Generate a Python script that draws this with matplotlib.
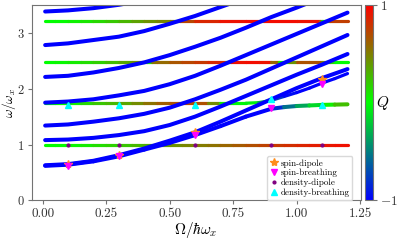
import matplotlib
matplotlib.use("Agg")
import matplotlib.pyplot as plt
import numpy as np
from matplotlib.collections import LineCollection
from matplotlib.colors import LinearSegmentedColormap, Normalize
from matplotlib.cm import ScalarMappable

plt.rcParams['font.family'] = 'serif'
plt.rcParams['font.serif'] = ['cmr10']
plt.rcParams['mathtext.fontset'] = 'cm'
plt.rcParams['axes.formatter.use_mathtext'] = True
plt.rcParams['axes.edgecolor'] = '0.45'
plt.rcParams['xtick.color'] = '0.45'
plt.rcParams['ytick.color'] = '0.45'
plt.rcParams['xtick.labelcolor'] = '0.2'
plt.rcParams['ytick.labelcolor'] = '0.2'

# ---- blue branches (Q = -1), omega vs Omega ----
om_grid = [0.01, 0.1, 0.2, 0.3, 0.4, 0.5, 0.6, 0.7, 0.8, 0.9, 1.0, 1.1, 1.2]
c1a = [0.63, 0.65, 0.71, 0.81, 0.93, 1.07, 1.22, 1.41, 1.61, 1.81, 2.01, 2.19, 2.35]
c2 = [1.08, 1.09, 1.12, 1.17, 1.24, 1.35, 1.50, 1.68, 1.87, 2.06, 2.25, 2.43, 2.62]
c3 = [1.34, 1.36, 1.41, 1.47, 1.55, 1.66, 1.81, 1.98, 2.16, 2.36, 2.56, 2.76, 2.96]
c4 = [1.75, 1.77, 1.81, 1.88, 1.96, 2.08, 2.23, 2.41, 2.60, 2.79, 2.98, 3.17, 3.36]
c5_om = [0.01, 0.1, 0.2, 0.3, 0.4, 0.5, 0.6, 0.7, 0.8, 0.9, 1.0, 1.05]
c5 = [2.21, 2.23, 2.29, 2.37, 2.47, 2.60, 2.75, 2.91, 3.09, 3.28, 3.45, 3.54]
c6_om = [0.01, 0.1, 0.2, 0.3, 0.4, 0.5, 0.6, 0.7, 0.75]
c6 = [2.78, 2.81, 2.87, 2.93, 3.03, 3.16, 3.30, 3.46, 3.54]
c7_om = [0.01, 0.1, 0.2, 0.3, 0.35]
c7 = [3.38, 3.40, 3.44, 3.50, 3.54]

# ---- coloured branches: omega and Q vs Omega ----
# spin-breathing branch bending into the sqrt(3) line
c1b_om = [0.01, 0.1, 0.2, 0.3, 0.4, 0.5, 0.6, 0.7, 0.8, 0.9, 0.95, 1.0, 1.05, 1.1, 1.15, 1.2]
c1b = [0.62, 0.64, 0.70, 0.79, 0.91, 1.03, 1.17, 1.33, 1.50, 1.64, 1.67, 1.69, 1.70, 1.71, 1.715, 1.72]
c1b_q = [-1, -1, -1, -1, -1, -1, -1, -1, -1, -1, -0.65, -0.45, -0.25, -0.05, 0.15, 0.35]

# sqrt(3) line, then rising
up_om = [0.01, 0.05, 0.1, 0.15, 0.2, 0.25, 0.3, 0.35, 0.4, 0.45, 0.5, 0.55, 0.6, 0.65,
         0.7, 0.75, 0.8, 0.85, 0.9, 0.95, 1.0, 1.05, 1.1, 1.15, 1.2]
up = [1.74, 1.74, 1.74, 1.74, 1.74, 1.74, 1.74, 1.74, 1.74, 1.74, 1.74, 1.74, 1.74, 1.74,
      1.74, 1.74, 1.74, 1.75, 1.79, 1.86, 1.93, 2.01, 2.10, 2.18, 2.27]
up_q = [0.0, 0.0, 0.05, 0.1, 0.2, 0.25, 0.3, 0.4, 0.5, 0.6, 0.65, 0.7, 0.72, 0.65,
        0.25, -0.05, 0.0, -0.1, -0.6, -0.9, -1, -1, -1, -1, -1]

# omega = 1 line
w1 = 1.0
w1_om = [0.01, 0.05, 0.1, 0.15, 0.2, 0.25, 0.3, 0.35, 0.4, 0.44, 0.45, 0.46, 0.5, 0.55,
         0.6, 0.65, 0.7, 0.75, 0.8, 0.85, 0.9, 0.95, 1.0, 1.05, 1.1, 1.15, 1.2]
w1_q = [0.0, 0.0, 0.02, 0.05, 0.1, 0.15, 0.2, 0.25, 0.3, 0.34, 0.95, 0.36, 0.4, 0.45,
        0.5, 0.53, 0.57, 0.62, 0.67, 0.72, 0.76, 0.8, 0.84, 0.87, 0.9, 0.92, 0.94]

# omega = 2.47 line
w3 = 2.47
w3_om = [0.01, 0.05, 0.1, 0.15, 0.2, 0.25, 0.3, 0.35, 0.41, 0.42, 0.43, 0.45, 0.5, 0.55,
         0.6, 0.65, 0.72, 0.73, 0.74, 0.8, 0.85, 0.9, 0.93, 0.95, 0.97, 1.0, 1.05, 1.1,
         1.13, 1.15, 1.2]
w3_q = [0.0, 0.0, 0.05, 0.1, 0.15, 0.22, 0.3, 0.38, 0.5, -0.3, 0.52, 0.55, 0.62, 0.7,
        0.75, 0.8, 0.88, -0.3, 0.9, 0.95, 0.95, 0.9, 0.3, -0.2, 0.2, 0.65, 0.7, 0.65,
        0.3, 0.0, 0.0]

# omega = 3.21 line
w4 = 3.21
w4_om = [0.01, 0.05, 0.1, 0.15, 0.2, 0.25, 0.3, 0.35, 0.4, 0.45, 0.5, 0.52, 0.53, 0.54,
         0.6, 0.7, 0.8, 0.85, 0.86, 0.87, 1.0, 1.09, 1.1, 1.11, 1.13, 1.2]
w4_q = [0.0, 0.0, 0.03, 0.07, 0.12, 0.18, 0.25, 0.32, 0.4, 0.45, 0.5, 0.52, -0.3, 0.65,
        0.8, 0.9, 0.95, 0.95, -0.3, 0.95, 0.95, 0.9, 0.3, -0.2, 0.75, 0.75]

# ---- markers ----
sd_om = [0.1, 0.3, 0.6, 1.1]
sd_w = [0.66, 0.82, 1.23, 2.18]
sb_om = [0.1, 0.3, 0.6, 0.9, 1.1]
sb_w = [0.61, 0.80, 1.17, 1.65, 2.08]
dd_om = [0.1, 0.3, 0.6, 0.9, 1.1]
dd_w = [1.0, 1.0, 1.0, 1.0, 1.0]
db_om = [0.1, 0.3, 0.6, 0.9, 1.1]
db_w = [1.71, 1.71, 1.71, 1.81, 1.71]

cmap = LinearSegmentedColormap.from_list('bgr', ['blue', 'lime', 'red'])
norm = Normalize(-1, 1)


def colored(ax, x, y, q, lw):
    x = np.asarray(x, float)
    y = np.asarray(y, float)
    q = np.asarray(q, float)
    pts = np.column_stack([x, y]).reshape(-1, 1, 2)
    segs = np.concatenate([pts[:-1], pts[1:]], axis=1)
    qm = 0.5 * (q[:-1] + q[1:])
    lc = LineCollection(segs, colors=cmap(norm(qm)), linewidths=lw, capstyle='round')
    ax.add_collection(lc)


fig = plt.figure(figsize=(3.97, 2.4), dpi=100)
ax = fig.add_axes([0.0798, 0.1646, 0.8288, 0.8154])
cax = fig.add_axes([0.9194, 0.1646, 0.0214, 0.8154])

lw_h = 2.3
lw_c = 2.9
colored(ax, w1_om, [w1] * len(w1_om), w1_q, lw_h)
colored(ax, w3_om, [w3] * len(w3_om), w3_q, lw_h)
colored(ax, w4_om, [w4] * len(w4_om), w4_q, lw_h)
colored(ax, up_om, up, up_q, lw_h)

blue = cmap(norm(-1))
for xs, ys in [(om_grid, c1a), (om_grid, c2), (om_grid, c3), (om_grid, c4),
               (c5_om, c5), (c6_om, c6), (c7_om, c7)]:
    ax.plot(xs, ys, color=blue, lw=lw_c, solid_capstyle='round')
colored(ax, c1b_om, c1b, c1b_q, lw_c)

ax.plot(sd_om, sd_w, '*', color='#ff8c1a', ms=6, ls='none', label='spin-dipole')
ax.plot(sb_om, sb_w, 'v', color='magenta', ms=5, ls='none', label='spin-breathing')
ax.plot(dd_om, dd_w, '.', color='purple', ms=4, ls='none', label='density-dipole')
ax.plot(db_om, db_w, '^', color='cyan', ms=5, ls='none', label='density-breathing')

ax.set_xlim(-0.043, 1.252)
ax.set_ylim(0, 3.5)
ax.set_xticks([0, 0.25, 0.5, 0.75, 1.0, 1.25])
ax.set_xticklabels(['0.00', '0.25', '0.50', '0.75', '1.00', '1.25'])
ax.set_yticks([0, 1, 2, 3])
ax.tick_params(labelsize=9.5, length=3, pad=2)
ax.tick_params(axis='y', labelsize=9)
ax.set_xlabel(r'$\Omega/\hbar\omega_x$', fontsize=11, labelpad=0)
ax.set_ylabel(r'$\omega/\omega_x$', fontsize=9.5)
ax.yaxis.set_label_coords(-0.042, 0.5)

ax.legend(loc='lower right', bbox_to_anchor=(0.975, 0.005), borderaxespad=0,
          fontsize=6.5, labelspacing=0.15, handletextpad=0.2, borderpad=0.3,
          handlelength=1.0, framealpha=1, edgecolor='0.85')

cb = fig.colorbar(ScalarMappable(norm=norm, cmap=cmap), cax=cax, ticks=[-1, 1])
cb.outline.set_edgecolor('0.45')
cax.tick_params(labelsize=9.5, length=3, pad=1.5)
cax.set_ylabel(r'$Q$', fontsize=11, rotation=0, va='center')
cax.yaxis.set_label_coords(2.1, 0.5)

fig.savefig('out.png', dpi=100)
